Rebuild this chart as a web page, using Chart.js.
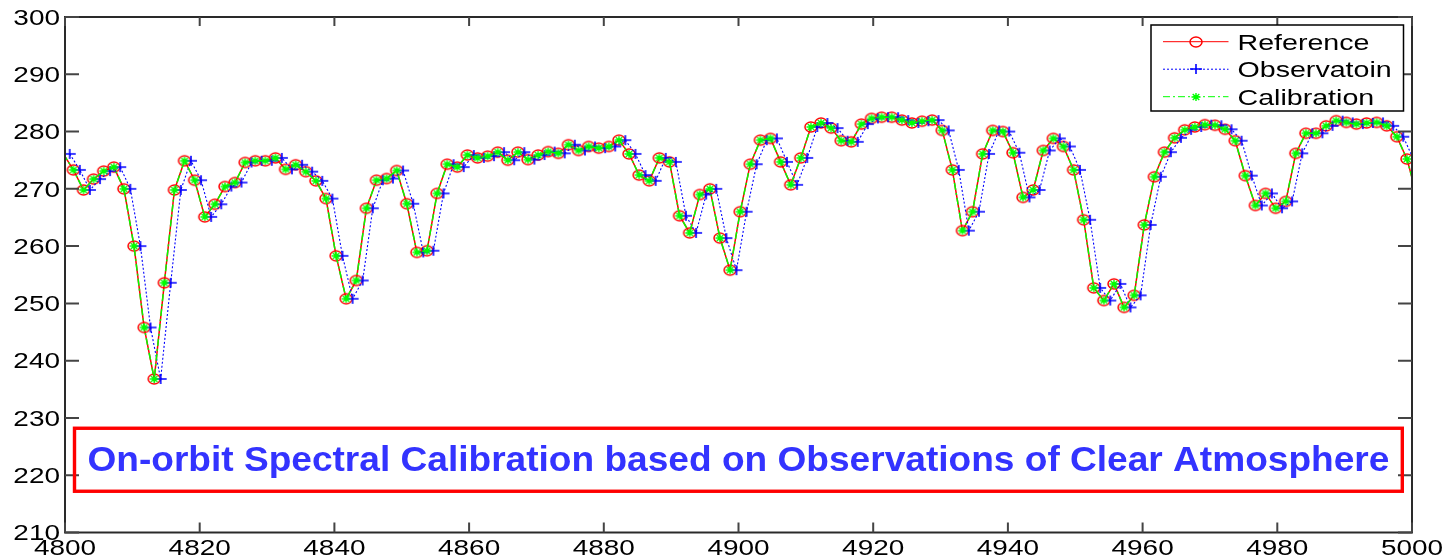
<!DOCTYPE html>
<html>
<head>
<meta charset="utf-8">
<script src="https://cdn.jsdelivr.net/npm/chart.js@4.4.1/dist/chart.umd.min.js"></script>
<style>
  html, body { margin: 0; padding: 0; background: #fff; }
  #wrap { width: 1454px; height: 558px; }
</style>
</head>
<body>
<div id="wrap"><canvas id="spectrum" width="1454" height="558"></canvas></div>
<script>
// wavenumber grid of the reference spectrum (cm-1)
const referenceWavenumbers = [
    4799.75, 4801.25, 4802.75, 4804.25, 4805.75, 4807.25, 4808.75, 4810.25, 4811.75, 4813.25,
    4814.75, 4816.25, 4817.75, 4819.25, 4820.75, 4822.25, 4823.75, 4825.25, 4826.75, 4828.25,
    4829.75, 4831.25, 4832.75, 4834.25, 4835.75, 4837.25, 4838.75, 4840.25, 4841.75, 4843.25,
    4844.75, 4846.25, 4847.75, 4849.25, 4850.75, 4852.25, 4853.75, 4855.25, 4856.75, 4858.25,
    4859.75, 4861.25, 4862.75, 4864.25, 4865.75, 4867.25, 4868.75, 4870.25, 4871.75, 4873.25,
    4874.75, 4876.25, 4877.75, 4879.25, 4880.75, 4882.25, 4883.75, 4885.25, 4886.75, 4888.25,
    4889.75, 4891.25, 4892.75, 4894.25, 4895.75, 4897.25, 4898.75, 4900.25, 4901.75, 4903.25,
    4904.75, 4906.25, 4907.75, 4909.25, 4910.75, 4912.25, 4913.75, 4915.25, 4916.75, 4918.25,
    4919.75, 4921.25, 4922.75, 4924.25, 4925.75, 4927.25, 4928.75, 4930.25, 4931.75, 4933.25,
    4934.75, 4936.25, 4937.75, 4939.25, 4940.75, 4942.25, 4943.75, 4945.25, 4946.75, 4948.25,
    4949.75, 4951.25, 4952.75, 4954.25, 4955.75, 4957.25, 4958.75, 4960.25, 4961.75, 4963.25,
    4964.75, 4966.25, 4967.75, 4969.25, 4970.75, 4972.25, 4973.75, 4975.25, 4976.75, 4978.25,
    4979.75, 4981.25, 4982.75, 4984.25, 4985.75, 4987.25, 4988.75, 4990.25, 4991.75, 4993.25,
    4994.75, 4996.25, 4997.75, 4999.25, 5000.75
];

// brightness temperature (K)
const referenceValues = [
    276.1, 273.3, 269.8, 271.7, 273.1, 273.8, 270.0, 260.0, 245.8, 236.8,
    253.6, 269.8, 274.9, 271.5, 265.1, 267.3, 270.4, 271.1, 274.6, 274.9,
    274.9, 275.4, 273.4, 274.2, 273.0, 271.4, 268.3, 258.3, 250.8, 254.0,
    266.6, 271.5, 271.8, 273.2, 267.4, 258.9, 259.2, 269.2, 274.3, 273.8,
    275.9, 275.4, 275.7, 276.4, 275.0, 276.4, 275.1, 275.9, 276.5, 276.2,
    277.7, 276.7, 277.4, 277.1, 277.4, 278.5, 276.1, 272.4, 271.4, 275.4,
    274.7, 265.3, 262.3, 269.0, 270.0, 261.4, 255.8, 266.0, 274.3, 278.5,
    278.8, 274.7, 270.7, 275.4, 280.8, 281.5, 280.6, 278.4, 278.2, 281.3,
    282.3, 282.5, 282.5, 282.0, 281.5, 281.8, 282.0, 280.2, 273.3, 262.7,
    266.0, 276.1, 280.2, 280.0, 276.3, 268.5, 269.8, 276.7, 278.8, 277.4,
    273.3, 264.6, 252.7, 250.5, 253.4, 249.3, 251.4, 263.7, 272.1, 276.4,
    278.9, 280.3, 280.8, 281.2, 281.1, 280.4, 278.4, 272.3, 267.1, 269.2,
    266.6, 267.8, 276.2, 279.7, 279.7, 281.0, 281.9, 281.6, 281.3, 281.5,
    281.6, 281.0, 279.1, 275.2, 268.7
];

// the observation is the same spectrum, shifted in wavenumber
const observationShift = 0.95;
const observationValues = referenceValues;
// calibrated spectrum lies on top of the reference
const calibrationValues = referenceValues;

const seriesNames = ['Reference', 'Observatoin', 'Calibration'];
const xTicks = [4800, 4820, 4840, 4860, 4880, 4900, 4920, 4940, 4960, 4980, 5000];
const yTicks = [210, 220, 230, 240, 250, 260, 270, 280, 290, 300];
const bannerText = 'On-orbit Spectral Calibration based on Observations of Clear Atmosphere';

const X_MIN = 4800, X_MAX = 5000;
const STRETCH = 1.3; // the figure was widened, text and markers too
const FONT = '"Liberation Sans", Arial, Helvetica, sans-serif';

function marker(w, h, paint) {
    const c = document.createElement('canvas');
    c.width = w;
    c.height = h;
    paint(c.getContext('2d'), w / 2, h / 2);
    return c;
}

const redCircle = marker(16, 14, function(g, cx, cy) {
    g.strokeStyle = '#ff0000';
    g.lineWidth = 1.5;
    g.beginPath();
    g.ellipse(cx, cy, 6, 4.9, 0, 0, Math.PI * 2);
    g.stroke();
});

const bluePlus = marker(14, 12, function(g, cx, cy) {
    g.strokeStyle = '#0000ff';
    g.lineWidth = 1.6;
    g.beginPath();
    g.moveTo(1, cy); g.lineTo(13, cy);
    g.moveTo(cx, 1); g.lineTo(cx, 11);
    g.stroke();
});

const greenStar = marker(12, 10, function(g, cx, cy) {
    g.strokeStyle = '#00ff00';
    g.lineWidth = 1.4;
    g.beginPath();
    g.moveTo(cx - 4.5, cy); g.lineTo(cx + 4.5, cy);
    g.moveTo(cx, cy - 4); g.lineTo(cx, cy + 4);
    g.moveTo(cx - 3.3, cy - 3); g.lineTo(cx + 3.3, cy + 3);
    g.moveTo(cx - 3.3, cy + 3); g.lineTo(cx + 3.3, cy - 3);
    g.stroke();
});

function insideOnly(img) {
    return function(ctx) {
        const p = ctx.raw;
        if (p && (p.x < X_MIN || p.x > X_MAX)) return false;
        return img;
    };
}

function toPoints(xs, ys, shift) {
    return xs.map((x, i) => ({ x: x + shift, y: ys[i] }));
}

function stretchedText(ctx, text, x, y, align, sx) {
    ctx.save();
    ctx.translate(x, y);
    ctx.scale(sx, 1);
    ctx.textAlign = align;
    ctx.fillText(text, 0, 0);
    ctx.restore();
}

const styles = [
    { color: '#ff0000', dash: [], width: 1.5, img: redCircle },
    { color: '#0000ff', dash: [2, 2], width: 1.1, img: bluePlus },
    { color: '#00ff00', dash: [7, 3, 2, 3], width: 1.5, img: greenStar }
];

const matlabFrame = {
    id: 'matlabFrame',
    afterDraw(chart) {
        const ctx = chart.ctx;
        const a = chart.chartArea;
        const xs = chart.scales.x, ys = chart.scales.y;

        // box and inward ticks
        ctx.save();
        ctx.strokeStyle = '#2a2a2a';
        ctx.lineWidth = 2;
        ctx.strokeRect(a.left, a.top, a.right - a.left, a.bottom - a.top);
        ctx.strokeStyle = '#444';
        ctx.beginPath();
        xTicks.forEach(v => {
            const px = xs.getPixelForValue(v);
            ctx.moveTo(px, a.bottom); ctx.lineTo(px, a.bottom - 10);
            ctx.moveTo(px, a.top); ctx.lineTo(px, a.top + 9);
        });
        yTicks.forEach(v => {
            const py = ys.getPixelForValue(v);
            ctx.moveTo(a.left, py); ctx.lineTo(a.left + 14, py);
            ctx.moveTo(a.right, py); ctx.lineTo(a.right - 14, py);
        });
        ctx.stroke();

        // tick labels
        ctx.fillStyle = '#000';
        ctx.font = '21.5px ' + FONT;
        ctx.textBaseline = 'alphabetic';
        yTicks.forEach(v => {
            stretchedText(ctx, String(v), a.left - 5, ys.getPixelForValue(v) + 7.8, 'right', STRETCH);
        });
        xTicks.forEach(v => {
            stretchedText(ctx, String(v), xs.getPixelForValue(v), a.bottom + 22.3, 'center', STRETCH);
        });

        // legend
        const lx = a.right - 261, ly = a.top + 8, lw = 252.5, lh = 86;
        ctx.fillStyle = '#fff';
        ctx.fillRect(lx, ly, lw, lh);
        ctx.strokeStyle = '#000';
        ctx.lineWidth = 1.5;
        ctx.strokeRect(lx, ly, lw, lh);
        ctx.font = '22px ' + FONT;
        seriesNames.forEach((name, i) => {
            const s = styles[i];
            const cy = ly + 16.7 + i * 27.5;
            ctx.strokeStyle = s.color;
            ctx.lineWidth = 1;
            ctx.setLineDash(s.dash);
            ctx.beginPath();
            ctx.moveTo(lx + 12, cy);
            ctx.lineTo(lx + 77.5, cy);
            ctx.stroke();
            ctx.setLineDash([]);
            ctx.drawImage(s.img, Math.round(lx + 45 - s.img.width / 2), Math.round(cy - s.img.height / 2));
            ctx.fillStyle = '#000';
            stretchedText(ctx, name, lx + 86.5, cy + 7.8, 'left', STRETCH);
        });

        // red framed banner
        const bx = a.left + 9.5, bright = a.right - 9.7;
        const bTop = ys.getPixelForValue(228.2), bBot = ys.getPixelForValue(217.2);
        ctx.strokeStyle = '#ff0000';
        ctx.lineWidth = 3.4;
        ctx.strokeRect(bx, bTop, bright - bx, bBot - bTop);
        ctx.fillStyle = '#3333ff';
        ctx.font = 'bold 35px ' + FONT;
        const w = ctx.measureText(bannerText).width;
        stretchedText(ctx, bannerText, (bx + bright) / 2, bBot - 20, 'center', 1302 / w);
        ctx.restore();
    }
};

function dataset(i, values, shift, order) {
    const s = styles[i];
    return {
        label: seriesNames[i],
        data: toPoints(referenceWavenumbers, values, shift),
        showLine: true,
        borderColor: s.color,
        borderWidth: s.width,
        borderDash: s.dash,
        pointStyle: insideOnly(s.img),
        pointRadius: 5,
        clip: 0,
        order: order
    };
}

const ctx = document.getElementById('spectrum').getContext('2d');
const chart = new Chart(ctx, {
    type: 'scatter',
    data: {
        datasets: [
            dataset(0, referenceValues, 0, 3),
            dataset(1, observationValues, observationShift, 2),
            dataset(2, calibrationValues, 0, 1)
        ]
    },
    options: {
        responsive: false,
        devicePixelRatio: 1,
        animation: false,
        events: [],
        layout: {
            padding: { left: 0, top: 17, right: 42, bottom: 0 }
        },
        plugins: {
            legend: { display: false },
            tooltip: { enabled: false }
        },
        scales: {
            x: {
                type: 'linear',
                min: X_MIN,
                max: X_MAX,
                ticks: { stepSize: 20, display: false },
                grid: { display: false },
                border: { display: false },
                afterFit: function(s) { s.height = 25.5; }
            },
            y: {
                min: 210,
                max: 300,
                ticks: { stepSize: 10, display: false },
                grid: { display: false },
                border: { display: false },
                afterFit: function(s) { s.width = 65; }
            }
        }
    },
    plugins: [matlabFrame]
});
</script>
</body>
</html>
